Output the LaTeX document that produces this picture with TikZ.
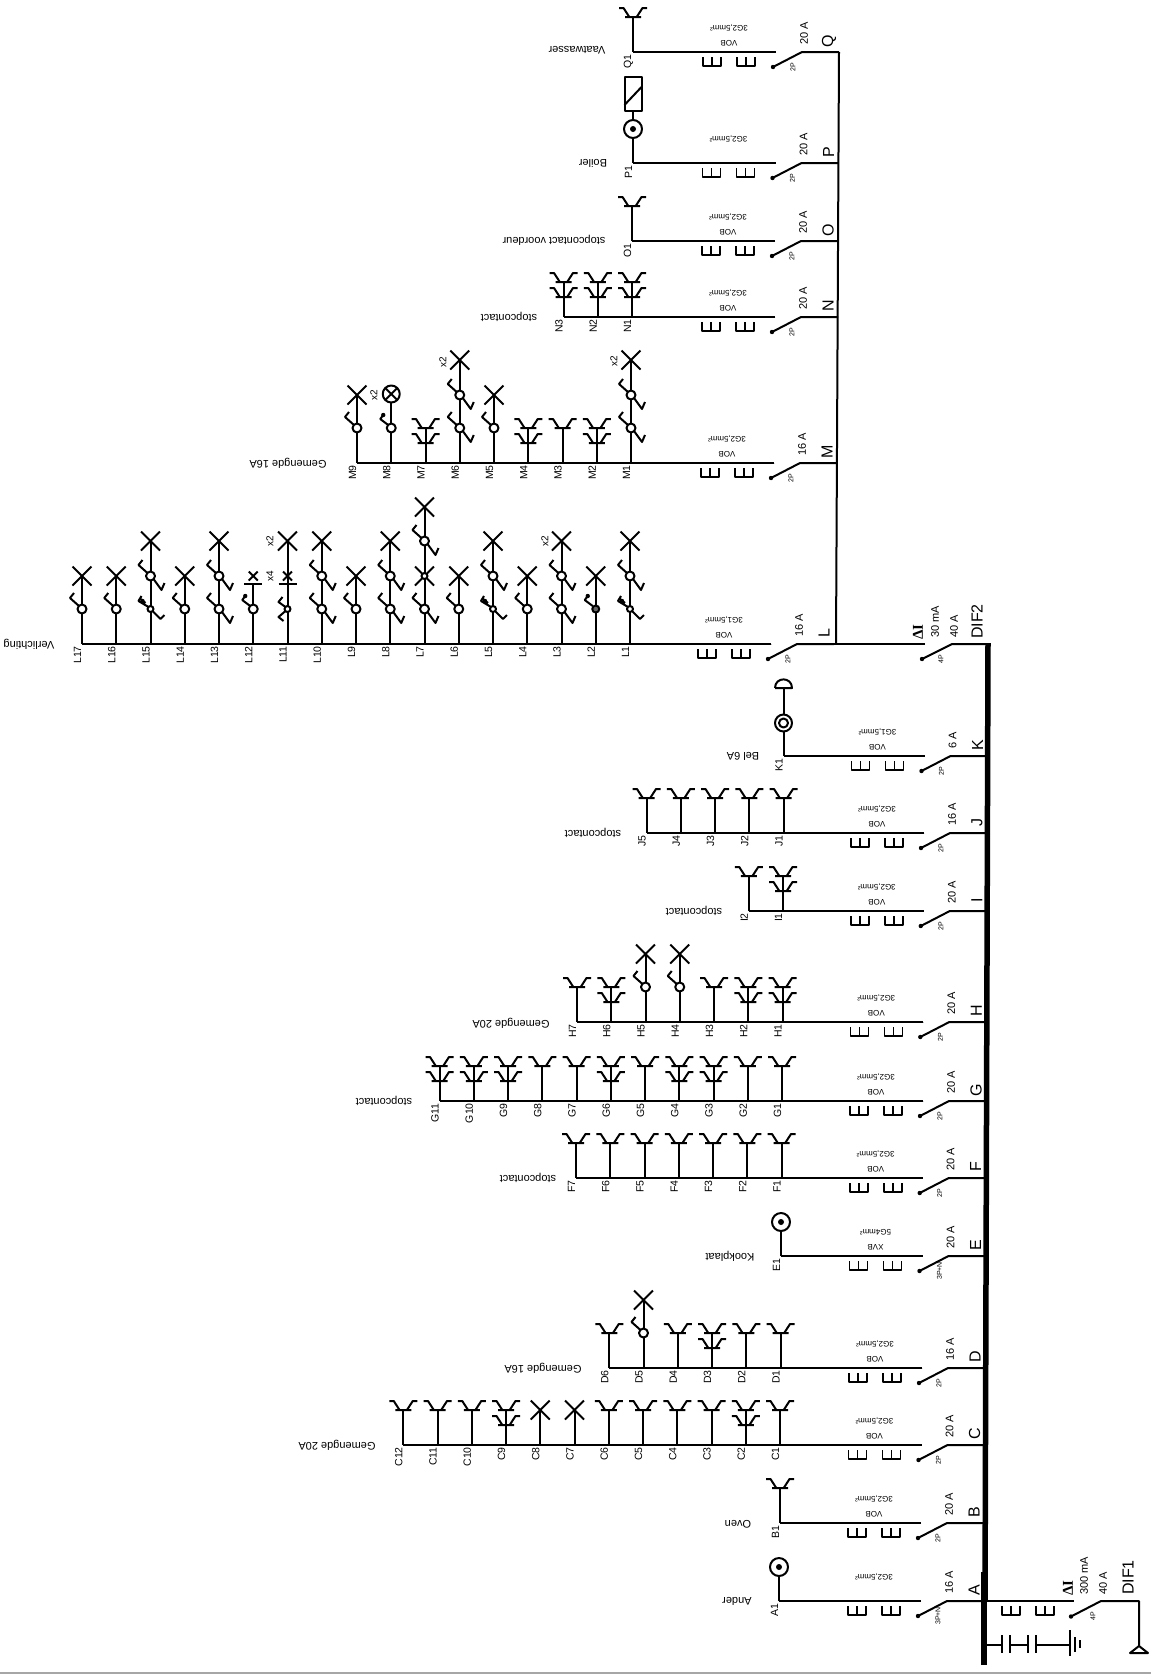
\documentclass[tikz,border=0pt]{standalone}
\usepackage{fontspec}
\setmainfont{Liberation Sans}
\newfontfamily\serifbold{Liberation Serif}[BoldFont={Liberation Serif Bold}]
\usepackage{tikz}

\tikzset{
    wire/.style={line width=2pt, line join=round},
    thin wire/.style={line width=1.6pt, line join=round},
    colnode/.style={rotate=90, anchor=east, inner sep=0pt, font=\fontsize{10.5}{12}\selectfont},
    ampnode/.style={rotate=90, anchor=west, inner sep=0pt, font=\fontsize{11}{13}\selectfont},
    letnode/.style={rotate=90, inner sep=0pt, font=\fontsize{16}{18}\selectfont},
    polenode/.style={rotate=90, inner sep=0pt, font=\fontsize{7}{8}\selectfont},
    typenode/.style={rotate=180, inner sep=0pt, font=\fontsize{8}{9}\selectfont},
    descnode/.style={rotate=180, inner sep=0pt, font=\fontsize{11}{13}\selectfont},
    multnode/.style={rotate=90, inner sep=0pt, font=\fontsize{10}{12}\selectfont},
    pics/comb/.style={code={\draw[thin wire] (0,5) -- (0,14) -- (18,14) -- (18,5) (9,5) -- (9,14);}},
    pics/ysym/.style={code={\draw[wire] (-8,0) -- (8,0) (-14,-9) -- (-9.5,-9) -- (-4,-0.5) (14,-9) -- (9.5,-9) -- (4,-0.5);}},
    pics/xsym/.style={code={\draw[wire] (-9.5,-9.5) -- (9.5,9.5) (-9.5,9.5) -- (9.5,-9.5);}},
    pics/smallx/.style={code={\draw[wire] (-4.5,-4.5) -- (4.5,4.5) (-4.5,4.5) -- (4.5,-4.5);}},
    pics/swa/.style={code={
        \draw[wire] (-3,-3) -- (-12,-11) -- (-8,-16);
        \draw[wire, fill=white] (0,0) circle (4.5);}},
    pics/swb/.style={code={
        \draw[wire] (3,3) -- (11,14) -- (14,7);
        \pic {swa};}},
    pics/swk/.style={code={
        \draw[wire] (-2,-2) -- (-12,-8) -- (-9,-13) (2,2) -- (10,10) -- (14,6) (-11,-11) -- (-5,-6);
        \fill (-8,-8) circle (2.2);
        \draw[wire, fill=white] (0,0) circle (3);}},
    pics/swd/.style={code={
        \draw[wire] (-3,-3) -- (-11,-9) -- (-8,-13);
        \fill (-8,-13) circle (2.2);
        \draw[wire, fill=white] (0,0) circle (4.5);}},
    pics/sock/.style={code={
        \draw[wire] (0,0) -- (0,-35);
        \pic at (0,-35) {ysym};}},
    pics/dsock/.style={code={
        \pic {sock};
        \pic at (0,-20) {ysym};}},
    pics/xlamp/.style={code={
        \draw[wire] (0,0) -- (0,-35);
        \pic at (0,-35) {xsym};}},
    pics/swx/.style={code={
        \draw[wire] (0,0) -- (0,-68);
        \pic at (0,-35) {swa};
        \pic at (0,-68) {xsym};}},
    pics/dblx/.style={code={
        \draw[wire] (0,0) -- (0,-103);
        \pic at (0,-35) {swb};
        \pic at (0,-68) {swb};
        \pic at (0,-103) {xsym};}},
    pics/keyx/.style={code={
        \draw[wire] (0,0) -- (0,-103);
        \pic at (0,-35) {swk};
        \pic at (0,-68) {swb};
        \pic at (0,-103) {xsym};}},
    pics/dotx/.style={code={
        \draw[wire] (0,0) -- (0,-68);
        \draw[wire] (-3,-38) -- (-11,-44) -- (-8,-48);
        \fill (-8,-48) circle (2.2);
        \draw[wire, fill=black!60] (0,-35) circle (3.5);
        \pic at (0,-68) {xsym};}},
    pics/triple/.style={code={
        \draw[wire] (0,0) -- (0,-137);
        \pic at (0,-35) {swb};
        \pic at (0,-68) {xsym};
        \draw[wire, fill=white] (0,-68) circle (3);
        \pic at (0,-103) {swb};
        \pic at (0,-137) {xsym};}},
    pics/tubefour/.style={code={
        \draw[wire] (0,0) -- (0,-103);
        \draw[wire] (-2,-37) -- (-9,-42) -- (-5,-47) (-2,-33) -- (-9,-27) -- (-4,-23);
        \draw[wire, fill=white] (0,-35) circle (3);
        \draw[wire] (-9,-60) -- (9,-60);
        \pic at (0,-68) {smallx};
        \pic at (0,-103) {xsym};}},
    pics/tube/.style={code={
        \draw[wire] (0,0) -- (0,-60);
        \pic at (0,-35) {swd};
        \draw[wire] (-9,-60) -- (9,-60);
        \pic at (0,-68) {smallx};}},
    pics/dotlamp/.style={code={
        \draw[wire] (0,0) -- (0,-60);
        \pic at (0,-35) {swd};
        \draw[wire] (0,-69) circle (8.5);
        \draw[wire] (-6,-75) -- (6,-63) (-6,-63) -- (6,-75);}},
    pics/outlet/.style={code={
        \draw[wire] (0,0) -- (0,-25);
        \draw[wire] (0,-34) circle (9);
        \fill (0,-34) circle (3);}},
    pics/boiler/.style={code={
        \pic {outlet};
        \draw[wire] (0,-43) -- (0,-52);
        \draw[wire] (-8.5,-52) rectangle (8.5,-86);
        \draw[wire] (-8.5,-58) -- (8.5,-76);}},
    pics/bell/.style={code={
        \draw[wire] (0,0) -- (0,-24.5) (0,-41.5) -- (0,-68);
        \draw[wire] (0,-33) circle (8.5) (0,-33) circle (4.5);
        \draw[wire] (-8.5,-68) -- (8.5,-68) .. controls (8.5,-79.5) and (-8.5,-79.5) .. (-8.5,-68);}},
}

\newcommand{\feeder}[7]{
    \coordinate (#1bus) at (#3,#2);
    \coordinate (#1hinge) at (#3-37,#2);
    \coordinate (#1tip) at (#3-66,#2+15);
    \coordinate (#1out) at (#3-63,#2);
    \draw[wire] (#1bus) -- (#1hinge) -- (#1tip);
    \fill (#1tip) circle (2.2);
    \pic at (#3-136,#2) {comb};
    \pic at (#3-102,#2) {comb};
    \node[ampnode] (#1amp) at (#3-35,#2-7) {#4};
    \node[letnode] (#1let) at (#3-10,#2-11) {#1};
    \node[polenode] (#1pole) at (#3-46,#2+15) {#5};
    \ifx\relax#6\relax\else\node[typenode] (#1type) at (#3-110,#2-9) {#6};\fi
    \node[typenode] (#1cable) at (#3-110,#2-24) {#7};
}
\newcommand{\branch}[4]{
    \foreach \sym [count=\n] in {#4} {
        \pgfmathsetmacro{\cx}{#3-(\n-1)*34.25}
        \coordinate (#1\n) at (\cx,#2);
        \draw[wire] (#1out) -- (#1\n);
        \node[colnode] (#1\n lab) at (\cx-4.5,#2+2) {#1\n};
        \pic at (#1\n) {\sym};
    }
}

\begin{document}
\begin{tikzpicture}[x=1pt, y=-1pt]
    \useasboundingbox (0,0) rectangle (1151,1674);
    \draw[gray!70, line width=2pt] (0,1673) -- (1151,1673);

    \feeder{A}{1601}{984}{16 A}{3P+N}{}{3G2,5mm²}
    \branch{A}{1601}{779}{outlet}
    \node[descnode] (Adesc) at (737,1601) {Ander};
    \feeder{B}{1523}{984}{20 A}{2P}{VOB}{3G2,5mm²}
    \branch{B}{1523}{780}{sock}
    \node[descnode] (Bdesc) at (738,1524) {Oven};
    \feeder{C}{1445}{984.5}{20 A}{2P}{VOB}{3G2,5mm²}
    \branch{C}{1445}{780}{sock,dsock,sock,sock,sock,sock,xlamp,xlamp,dsock,sock,sock,sock}
    \node[descnode] (Cdesc) at (337,1445) {Gemengde 20A};
    \feeder{D}{1368}{985}{16 A}{2P}{VOB}{3G2,5mm²}
    \branch{D}{1368}{780.5}{sock,sock,dsock,sock,swx,sock}
    \node[descnode] (Ddesc) at (543,1368) {Gemengde 16A};
    \feeder{E}{1256}{985.5}{20 A}{3P+N}{XVB}{5G4mm²}
    \branch{E}{1256}{781}{outlet}
    \node[descnode] (Edesc) at (730,1256) {Kookplaat};
    \feeder{F}{1178}{985.7}{20 A}{2P}{VOB}{3G2,5mm²}
    \branch{F}{1178}{781.5}{sock,sock,sock,sock,sock,sock,sock}
    \node[descnode] (Fdesc) at (528,1178) {stopcontact};
    \feeder{G}{1101}{986}{20 A}{2P}{VOB}{3G2,5mm²}
    \branch{G}{1101}{782}{sock,sock,dsock,dsock,sock,dsock,sock,sock,dsock,dsock,dsock}
    \node[descnode] (Gdesc) at (384,1101) {stopcontact};
    \feeder{H}{1022}{986.3}{20 A}{2P}{VOB}{3G2,5mm²}
    \branch{H}{1022}{782.5}{dsock,dsock,sock,swx,swx,dsock,sock}
    \node[descnode] (Hdesc) at (511,1023) {Gemengde 20A};
    \feeder{I}{911}{986.8}{20 A}{2P}{VOB}{3G2,5mm²}
    \branch{I}{911}{783}{dsock,sock}
    \node[descnode] (Idesc) at (694,911) {stopcontact};
    \feeder{J}{833}{987}{16 A}{2P}{VOB}{3G2,5mm²}
    \branch{J}{833}{783.5}{sock,sock,sock,sock,sock}
    \node[descnode] (Jdesc) at (593,833) {stopcontact};
    \feeder{K}{756}{987.5}{6 A}{2P}{VOB}{3G1,5mm²}
    \branch{K}{756}{783.5}{bell}
    \node[descnode] (Kdesc) at (743,756) {Bel 6A};

    \feeder{L}{644}{834}{16 A}{2P}{VOB}{3G1,5mm²}
    \branch{L}{644}{630}{keyx,dotx,dblx,swx,keyx,swx,triple,dblx,swx,dblx,tubefour,tube,dblx,swx,keyx,swx,swx}
    \node[descnode] (Ldesc) at (29,644) {Verlichting};
    \node[multnode] (Lxa) at (545,541) {x2};
    \node[multnode] (Lxb) at (270,541) {x2};
    \node[multnode] (Lxc) at (270,576) {x4};

    \feeder{M}{463}{837}{16 A}{2P}{VOB}{3G2,5mm²}
    \branch{M}{463}{631}{dblx,dsock,sock,dsock,swx,dblx,dsock,dotlamp,swx}
    \node[descnode] (Mdesc) at (288,463) {Gemengde 16A};
    \node[multnode] (Mxa) at (614,361) {x2};
    \node[multnode] (Mxb) at (443,362) {x2};
    \node[multnode] (Mxc) at (374,395) {x2};
    \feeder{N}{317}{838}{20 A}{2P}{VOB}{3G2,5mm²}
    \branch{N}{317}{632}{dsock,dsock,dsock}
    \node[descnode] (Ndesc) at (509,317) {stopcontact};
    \feeder{O}{241}{838}{20 A}{2P}{VOB}{3G2,5mm²}
    \branch{O}{241}{632}{sock}
    \node[descnode] (Odesc) at (554,240) {stopcontact voordeur};
    \feeder{P}{163}{838.5}{20 A}{2P}{}{3G2,5mm²}
    \branch{P}{163}{633}{boiler}
    \node[descnode] (Pdesc) at (593,163) {Boiler};
    \feeder{Q}{52}{839}{20 A}{2P}{VOB}{3G2,5mm²}
    \branch{Q}{52}{633}{sock}
    \node[descnode] (Qdesc) at (577,50) {Vaatwasser};

    \coordinate (Ljoin) at (836,644);
    \draw[wire] (Qbus) -- (Ljoin);

    % DIF2 en hoofdrail
    \coordinate (railtop) at (988,643);
    \coordinate (railend) at (985,1601);
    \coordinate (feedtop) at (984,1572);
    \coordinate (feedend) at (984,1665);
    \draw[line width=5.5pt] (railtop) -- (railend);
    \draw[line width=6pt] (feedtop) -- (feedend);
    \coordinate (difbbus) at (988,644);
    \coordinate (difbhinge) at (952,644);
    \coordinate (difbtip) at (922,659);
    \coordinate (difbout) at (925,644);
    \draw[wire] (difbbus) -- (difbhinge) -- (difbtip);
    \fill (difbtip) circle (2.2);
    \draw[wire] (difbout) -- (Lbus);
    \node[rotate=90, inner sep=0pt, font=\serifbold\bfseries\fontsize{15}{17}\selectfont] (difbdelta) at (918,632) {ΔI};
    \node[ampnode] (difbma) at (935,638) {30 mA};
    \node[ampnode] (difbamp) at (954,638) {40 A};
    \node[letnode, anchor=west] (difbname) at (977,639) {DIF2};
    \node[polenode] (difbpole) at (941,659) {4P};

    % DIF1
    \coordinate (difabus) at (984,1601);
    \coordinate (difaout) at (1074,1601);
    \coordinate (difahinge) at (1101,1601);
    \coordinate (difatip) at (1071,1616.5);
    \coordinate (difaturn) at (1139,1601);
    \coordinate (difaapex) at (1139,1646);
    \coordinate (difaleft) at (1130,1653);
    \coordinate (difaright) at (1148,1653);
    \draw[wire] (difabus) -- (difaout);
    \draw[wire] (difatip) -- (difahinge) -- (difaturn) -- (difaapex);
    \fill (difatip) circle (2.2);
    \draw[wire] (difaapex) -- (difaleft) -- (difaright) -- cycle;
    \pic at (1002,1601) {comb};
    \pic at (1036,1601) {comb};
    \node[rotate=90, inner sep=0pt, font=\serifbold\bfseries\fontsize{15}{17}\selectfont] (difadelta) at (1068,1588) {ΔI};
    \node[ampnode] (difama) at (1084,1595) {300 mA};
    \node[ampnode] (difaamp) at (1103,1595) {40 A};
    \node[letnode, anchor=west] (difaname) at (1128,1595) {DIF1};
    \node[polenode] (difapole) at (1093,1616) {4P};

    % condensatoren en aarde
    \draw[wire] (984,1645) -- (1002,1645) (1002,1635) -- (1002,1653);
    \draw[wire] (1010,1635) -- (1010,1653) (1010,1645) -- (1028,1645) (1028,1635) -- (1028,1653);
    \draw[wire] (1036,1635) -- (1036,1653) (1036,1645) -- (1070,1645);
    \draw[wire] (1070,1630) -- (1070,1656) (1075,1637) -- (1075,1652) (1079.5,1640) -- (1079.5,1648);
\end{tikzpicture}
\end{document}
